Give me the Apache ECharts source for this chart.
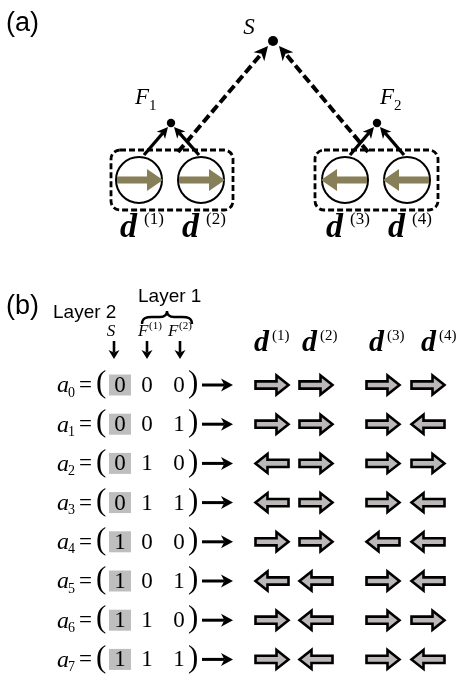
<!DOCTYPE html>
<html>
<head>
<meta charset="utf-8">
<script src="https://cdn.jsdelivr.net/npm/echarts@6/dist/echarts.min.js"></script>
<style>
  html, body { margin: 0; padding: 0; background: #fff; }
  #chart { width: 456px; height: 677px; }
</style>
</head>
<body>
<div id="chart"></div>
<script>
// ---------- values ----------
// configuration index of each row a_k
const stateIndex = [0, 1, 2, 3, 4, 5, 6, 7];
// layer-2 bit (S) and layer-1 bits (F(1), F(2)) of each configuration
const layer2S  = [0, 0, 0, 0, 1, 1, 1, 1];
const layer1F1 = [0, 0, 1, 1, 0, 0, 1, 1];
const layer1F2 = [0, 1, 0, 1, 0, 1, 0, 1];
// dipole orientation for d(1)..d(4): +1 points right, -1 points left
const dipoleDirs = [
  [ 1,  1,  1,  1],
  [ 1,  1,  1, -1],
  [-1,  1,  1,  1],
  [-1,  1,  1, -1],
  [ 1,  1, -1, -1],
  [-1, -1,  1, -1],
  [ 1, -1,  1,  1],
  [ 1, -1,  1, -1]
];
// dipole orientations drawn in the network sketch
const networkDirs = [1, 1, -1, -1];
// dipole index -> parent F node index
const dipoleParent = [0, 0, 1, 1];
const dipoleTags = ['(1)', '(2)', '(3)', '(4)'];
const fNodeTags = ['1', '2'];
const headerTags = ['(1)', '(2)'];

// ---------- layout (pixel units of the hidden axes) ----------
const W = 456, H = 677;
const SERIF = '"Liberation Serif", "Times New Roman", serif';
const SANS = '"Liberation Sans", Arial, sans-serif';
const INK = '#000';
const OLIVE = '#877f57';
const SPIN_FILL = '#bdb8b8';
const BOX_FILL = '#bebebe';

// part (a)
const cellX = [139, 201, 345, 407], cellY = 180, cellR = 23;
const groupBoxes = [[111, 150, 122, 60], [315, 150, 123, 60]];
const fNodes = [[171, 123], [377, 123]];
const sNode = [273, 41];
const linkStart = [[144, 155], [199, 155], [350, 155], [404, 155]];
const linkEnd = [[168, 127], [174, 127], [374, 127], [380, 127]];
const dashStart = [[178, 152], [368, 152]];
const dashEnd = [[268, 46], [279, 46]];

// part (b)
const rowY0 = 385, rowStep = 39.2;
const colX = [272, 316, 383, 428];
const dLabelX = [254, 302, 369, 421];
const bitX = [120, 147, 179];
const headArrowX = [114, 147, 180];

function P(api, x, y) { return api.coord([x, y]); }

function text(api, x, y, str, font, align, valign) {
  const p = P(api, x, y);
  return {
    type: 'text', x: p[0], y: p[1],
    style: {
      text: str, font: font, fill: INK,
      textAlign: align || 'left', textVerticalAlign: valign || 'middle'
    }
  };
}

// straight arrow with a notched triangular head
function arrow(api, from, to, opt) {
  const f = P(api, from[0], from[1]), t = P(api, to[0], to[1]);
  const dx = t[0] - f[0], dy = t[1] - f[1], L = Math.hypot(dx, dy);
  const ux = dx / L, uy = dy / L, nx = -uy, ny = ux;
  const bx = t[0] - ux * opt.len, by = t[1] - uy * opt.len;
  const notch = [t[0] - ux * opt.len * 0.72, t[1] - uy * opt.len * 0.72];
  return {
    type: 'group',
    children: [
      {
        type: 'line',
        shape: { x1: f[0], y1: f[1], x2: notch[0], y2: notch[1] },
        style: { stroke: INK, lineWidth: opt.width, lineDash: opt.dash || null, lineCap: 'butt' }
      },
      {
        type: 'polygon',
        shape: { points: [t, [bx + nx * opt.half, by + ny * opt.half], notch, [bx - nx * opt.half, by - ny * opt.half]] },
        style: { fill: INK }
      }
    ]
  };
}

// ---------- series renderers ----------
function renderPanelTags(params, api) {
  return {
    type: 'group',
    children: [
      text(api, 6, 24, '(a)', '27px ' + SANS),
      text(api, 6, 307, '(b)', '27px ' + SANS),
      text(api, 53, 313, 'Layer 2', '19px ' + SANS),
      text(api, 138, 297, 'Layer 1', '19px ' + SANS)
    ]
  };
}

function renderGroupBoxes(params, api) {
  const b = groupBoxes[api.value(0)];
  const p = P(api, b[0], b[1]);
  return {
    type: 'rect',
    shape: { x: p[0], y: p[1], width: b[2], height: b[3], r: 9 },
    style: { fill: null, stroke: INK, lineWidth: 2.8, lineDash: [6, 3] }
  };
}

function renderCells(params, api) {
  const i = api.value(0), dir = api.value(1);
  const c = P(api, cellX[i], cellY);
  const r = cellR;
  const tail = c[0] - dir * (r - 1), tip = c[0] + dir * (r + 1);
  const hb = tip - dir * 16;
  const sh = 3.6, hh = 11;
  const y = c[1];
  return {
    type: 'group',
    children: [
      { type: 'circle', shape: { cx: c[0], cy: c[1], r: r }, style: { fill: '#fff', stroke: INK, lineWidth: 2 } },
      {
        type: 'polygon',
        shape: { points: [[tail, y - sh], [hb, y - sh], [hb, y - hh], [tip, y], [hb, y + hh], [hb, y + sh], [tail, y + sh]] },
        style: { fill: OLIVE }
      },
      text(api, cellX[i] - 19, 228, 'd', 'italic bold 34px ' + SERIF),
      text(api, cellX[i] + 5, 220, dipoleTags[i], '17px ' + SERIF)
    ]
  };
}

function renderLinks(params, api) {
  const i = api.value(0);
  return arrow(api, linkStart[i], linkEnd[i], { width: 3.3, len: 11, half: 5.5 });
}

function renderDashLinks(params, api) {
  const i = api.value(0);
  return arrow(api, dashStart[i], dashEnd[i], { width: 4, len: 14, half: 7, dash: [9, 4] });
}

function renderNodes(params, api) {
  const i = api.value(0);
  const f = fNodes[i];
  const p = P(api, f[0], f[1]);
  const lx = i === 0 ? 135 : 380;
  return {
    type: 'group',
    children: [
      { type: 'circle', shape: { cx: p[0], cy: p[1], r: 4.2 }, style: { fill: INK } },
      text(api, lx, 98, 'F', 'italic 23px ' + SERIF),
      text(api, lx + 14, 106, fNodeTags[i], '15px ' + SERIF)
    ]
  };
}

function renderTop(params, api) {
  const p = P(api, sNode[0], sNode[1]);
  return {
    type: 'group',
    children: [
      { type: 'circle', shape: { cx: p[0], cy: p[1], r: 5 }, style: { fill: INK } },
      text(api, 249, 28, 'S', 'italic 23px ' + SERIF, 'center')
    ]
  };
}

function renderHeader(params, api) {
  const b = [[142, 324], [142, 318], [146, 317], [152, 317], [160, 317], [165, 317], [167, 315], [167, 311],
             [167, 315], [169, 317], [174, 317], [182, 317], [188, 317], [192, 318], [192, 324]]
    .map(q => P(api, q[0], q[1]));
  const d = `M${b[0]} C${b[1]} ${b[2]} ${b[3]} L${b[4]} C${b[5]} ${b[6]} ${b[7]} C${b[8]} ${b[9]} ${b[10]} L${b[11]} C${b[12]} ${b[13]} ${b[14]}`;
  const kids = [
    { type: 'path', shape: { pathData: d }, style: { fill: null, stroke: INK, lineWidth: 2.4 } },
    text(api, 111, 332, 'S', 'italic 17px ' + SERIF, 'center'),
    text(api, 138, 332, 'F', 'italic 17px ' + SERIF),
    text(api, 149, 326, headerTags[0], '11px ' + SERIF),
    text(api, 168, 332, 'F', 'italic 17px ' + SERIF),
    text(api, 179, 326, headerTags[1], '11px ' + SERIF)
  ];
  headArrowX.forEach(x => kids.push(arrow(api, [x, 341], [x, 359], { width: 2.6, len: 9, half: 5.5 })));
  dLabelX.forEach((x, i) => {
    kids.push(text(api, x, 343, 'd', 'italic bold 30px ' + SERIF));
    kids.push(text(api, x + 18, 336, dipoleTags[i], '15px ' + SERIF));
  });
  return { type: 'group', children: kids };
}

function renderStates(params, api) {
  const k = api.value(0);
  const bits = [api.value(1), api.value(2), api.value(3)];
  const y = rowY0 + k * rowStep;
  const boxP = P(api, 109, y - 10.5);
  const kids = [
    { type: 'rect', shape: { x: boxP[0], y: boxP[1], width: 22, height: 21 }, style: { fill: BOX_FILL } },
    text(api, 57, y + 1, 'a', 'italic 24px ' + SERIF),
    text(api, 68, y + 8, String(k), '14px ' + SERIF),
    text(api, 79, y + 1, '=', '23px ' + SERIF),
    text(api, 96, y - 1, '(', '31px ' + SERIF),
    text(api, 188, y - 1, ')', '31px ' + SERIF)
  ];
  bits.forEach((b, j) => kids.push(text(api, bitX[j], y + 1, String(b), '23px ' + SERIF, 'center')));
  kids.push(arrow(api, [202, y], [233, y], { width: 3, len: 12, half: 6.5 }));
  return { type: 'group', children: kids };
}

function renderSpins(params, api) {
  const k = api.value(0), j = api.value(1), dir = api.value(2);
  const c = P(api, colX[j], rowY0 + k * rowStep);
  const half = 16.5, sh = 3.6, hh = 9.5, hl = 12;
  const tail = c[0] - dir * half, tip = c[0] + dir * half, hb = tip - dir * hl;
  const y = c[1];
  return {
    type: 'polygon',
    shape: { points: [[tail, y - sh], [hb, y - sh], [hb, y - hh], [tip, y], [hb, y + hh], [hb, y + sh], [tail, y + sh]] },
    style: { fill: SPIN_FILL, stroke: INK, lineWidth: 2.6, lineJoin: 'miter' }
  };
}

// ---------- data tables for the series ----------
const cellData = networkDirs.map((d, i) => [i, d]);
const linkData = dipoleParent.map((p, i) => [i, p]);
const nodeData = fNodeTags.map((t, i) => [i]);
const stateData = stateIndex.map(k => [k, layer2S[k], layer1F1[k], layer1F2[k]]);
const spinData = [];
stateIndex.forEach(k => dipoleDirs[k].forEach((d, j) => spinData.push([k, j, d])));

const custom = (name, data, renderItem, z) => ({
  type: 'custom', name, data, renderItem, z: z || 2,
  coordinateSystem: 'cartesian2d', clip: false, silent: true, animation: false
});

const chart = echarts.init(document.getElementById('chart'), null, { renderer: 'canvas' });
chart.setOption({
  backgroundColor: '#fff',
  animation: false,
  grid: { left: 0, right: 0, top: 0, bottom: 0 },
  xAxis: { type: 'value', min: 0, max: W, show: false },
  yAxis: { type: 'value', min: 0, max: H, inverse: true, show: false },
  series: [
    custom('tags', [[0]], renderPanelTags),
    custom('dashLinks', [[0], [1]], renderDashLinks, 2),
    custom('groups', [[0], [1]], renderGroupBoxes, 3),
    custom('links', linkData, renderLinks, 4),
    custom('cells', cellData, renderCells, 5),
    custom('nodes', nodeData, renderNodes, 5),
    custom('top', [[0]], renderTop, 5),
    custom('header', [[0]], renderHeader),
    custom('states', stateData, renderStates),
    custom('spins', spinData, renderSpins)
  ]
});
</script>
</body>
</html>
